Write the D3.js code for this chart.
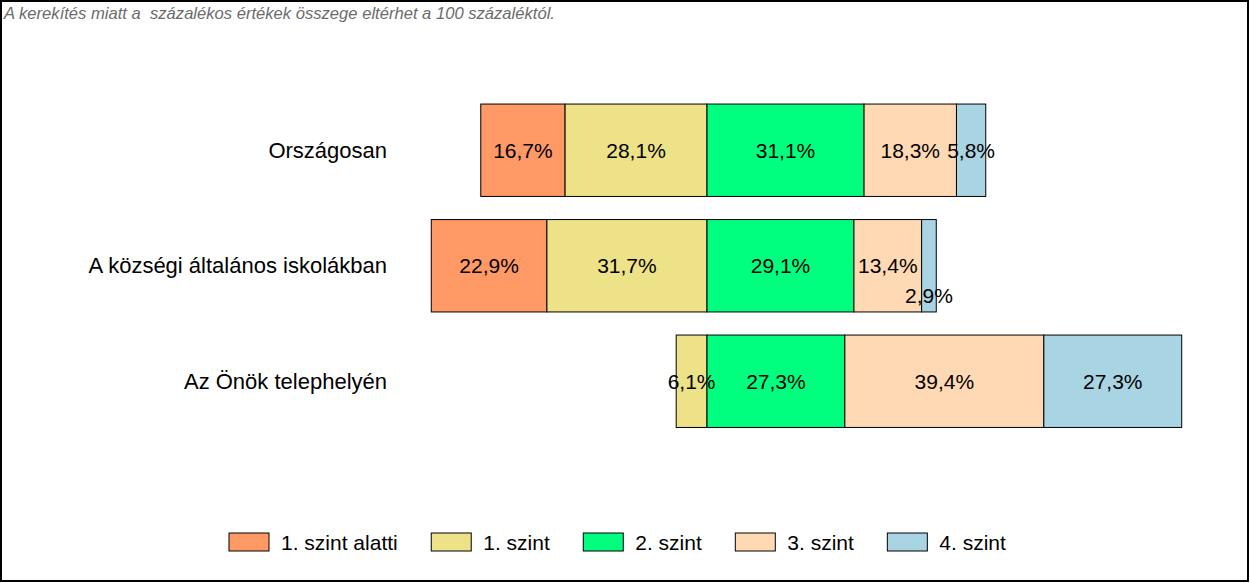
<!DOCTYPE html>
<html>
<head>
<meta charset="utf-8">
<script src="https://cdn.jsdelivr.net/npm/d3@7"></script>
<style>
body { margin: 0; background: #fff; }
text { font-family: "Liberation Sans", Arial, sans-serif; }
</style>
</head>
<body>
<div id="chart"></div>
<script>
var categories = ["Országosan", "A községi általános iskolákban", "Az Önök telephelyén"];
var levels = ["1. szint alatti", "1. szint", "2. szint", "3. szint", "4. szint"];
var colors = ["#FF9966", "#EEE288", "#00FF7F", "#FFD9B3", "#A8D4E4"];
var below1 = [16.7, 22.9, 0];
var level1 = [28.1, 31.7, 6.1];
var level2 = [31.1, 29.1, 27.3];
var level3 = [18.3, 13.4, 39.4];
var level4 = [5.8, 2.9, 27.3];
var note = "A kerekítés miatt a  százalékos értékek összege eltérhet a 100 százaléktól.";

var W = 1250, H = 583;
var FS = 21;
var series = [below1, level1, level2, level3, level4];

var svg = d3.select("#chart").append("svg")
	.attr("width", W)
	.attr("height", H);

svg.append("rect")
	.attr("x", 1).attr("y", 1)
	.attr("width", W - 3).attr("height", H - 3)
	.attr("fill", "#fff")
	.attr("stroke", "#000")
	.attr("stroke-width", 2);

svg.append("text")
	.attr("x", 4).attr("y", 19)
	.style("font-size", "16.6px")
	.style("font-style", "italic")
	.style("white-space", "pre")
	.attr("fill", "#6b6b6b")
	.text(note);

// center of the diverging bars is between "1. szint" and "2. szint"
var x = d3.scaleLinear().domain([-60, 100]).range([707 - 60 * 5.05, 707 + 100 * 5.05]);
var y = d3.scaleBand().domain(categories).range([92.5, 439]).paddingInner(0.2).paddingOuter(0.1);

var segs = [];
categories.forEach(function(c, i)
{
	var start = -(below1[i] + level1[i]);
	series.forEach(function(s, j)
	{
		segs.push({cat: c, level: j, v: s[i], x0: start, x1: start + s[i]});
		start += s[i];
	});
});
segs = segs.filter(function(d) { return d.v > 0; });

svg.selectAll("rect.seg")
	.data(segs)
	.enter().append("rect")
	.attr("class", "seg")
	.attr("x", function(d) { return x(d.x0); })
	.attr("y", function(d) { return y(d.cat); })
	.attr("width", function(d) { return x(d.x1) - x(d.x0); })
	.attr("height", y.bandwidth())
	.attr("fill", function(d) { return colors[d.level]; })
	.attr("stroke", "#000")
	.attr("stroke-width", 1);

svg.selectAll("text.val")
	.data(segs)
	.enter().append("text")
	.attr("class", "val")
	.attr("x", function(d) { return (x(d.x0) + x(d.x1)) / 2; })
	.attr("y", function(d)
	{
		var cy = y(d.cat) + y.bandwidth() / 2 + 7.5;
		// small value pushed down so it does not overlap its neighbour
		return (d.v < 5 ? cy + 30 : cy);
	})
	.attr("text-anchor", "middle")
	.style("font-size", FS + "px")
	.attr("fill", "#000")
	.text(function(d) { return d.v.toFixed(1).replace(".", ",") + "%"; });

svg.selectAll("text.cat")
	.data(categories)
	.enter().append("text")
	.attr("class", "cat")
	.attr("x", 387)
	.attr("y", function(d) { return y(d) + y.bandwidth() / 2 + 7.5; })
	.attr("text-anchor", "end")
	.style("font-size", "22px")
	.attr("fill", "#000")
	.text(function(d) { return d; });

// legend
var lg = svg.append("g");
var lx = 229;
levels.forEach(function(l, i)
{
	lg.append("rect")
		.attr("x", lx).attr("y", 533)
		.attr("width", 40).attr("height", 18)
		.attr("fill", colors[i])
		.attr("stroke", "#000")
		.attr("stroke-width", 1);
	var t = lg.append("text")
		.attr("x", lx + 52).attr("y", 550)
		.style("font-size", FS + "px")
		.attr("fill", "#000")
		.text(l);
	lx += 52 + t.node().getComputedTextLength() + 33.5;
});
</script>
</body>
</html>
